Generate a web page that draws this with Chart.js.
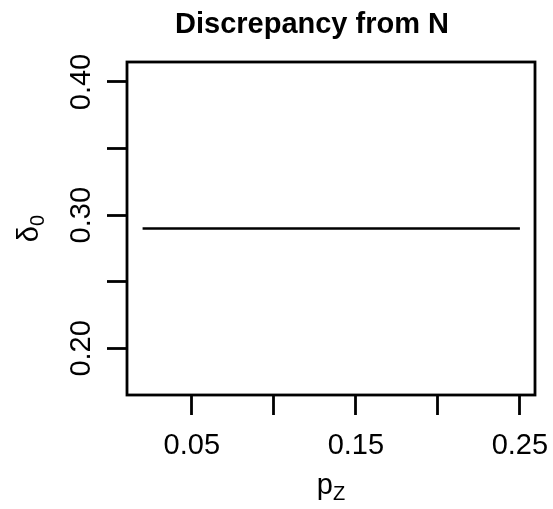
<!DOCTYPE html>
<html>
<head>
<meta charset="utf-8">
<script src="https://cdn.jsdelivr.net/npm/chart.js@4.4.0/dist/chart.umd.min.js"></script>
<style>
html, body { margin: 0; padding: 0; background: #fff; }
</style>
</head>
<body>
<canvas id="chart" width="553" height="509"></canvas>
<script>
var pZ = [0.02, 0.05, 0.10, 0.15, 0.20, 0.25];
var delta0 = [0.29, 0.29, 0.29, 0.29, 0.29, 0.29];
var xTicks = [0.05, 0.10, 0.15, 0.20, 0.25];
var xTickLabels = ['0.05', '', '0.15', '', '0.25'];
var yTicks = [0.20, 0.25, 0.30, 0.35, 0.40];
var yTickLabels = ['0.20', '', '0.30', '', '0.40'];
var chartTitle = 'Discrepancy from N';

var FONT = '"Liberation Sans", Arial, Helvetica, sans-serif';

// R-style extras: full box, rotated y labels, axis titles with subscripts, title
var rStyle = {
    id: 'rStyle',
    afterDraw: function (chart) {
        var ctx = chart.ctx;
        var area = chart.chartArea;
        var ys = chart.scales.y;
        var midX = (area.left + area.right) / 2;
        var midY = (area.top + area.bottom) / 2;

        ctx.save();
        ctx.strokeStyle = '#000';
        ctx.lineWidth = 2.8;
        ctx.strokeRect(area.left, area.top, area.right - area.left, area.bottom - area.top);

        ctx.fillStyle = '#000';
        ctx.font = '29px ' + FONT;
        ctx.textAlign = 'center';
        ctx.textBaseline = 'alphabetic';
        for (var i = 0; i < yTicks.length; i++) {
            if (!yTickLabels[i]) continue;
            var py = ys.getPixelForValue(yTicks[i]);
            ctx.save();
            ctx.translate(90, py);
            ctx.rotate(-Math.PI / 2);
            ctx.fillText(yTickLabels[i], 0, 0);
            ctx.restore();
        }

        // y title: delta with subscript 0
        ctx.textAlign = 'left';
        ctx.font = '29px ' + FONT;
        var wd = ctx.measureText('δ').width;
        ctx.font = '20px ' + FONT;
        var w0 = ctx.measureText('0').width;
        ctx.save();
        ctx.translate(38, midY);
        ctx.rotate(-Math.PI / 2);
        var sx = -(wd + w0) / 2;
        ctx.font = '29px ' + FONT;
        ctx.fillText('δ', sx, 0);
        ctx.font = '20px ' + FONT;
        ctx.fillText('0', sx + wd, 6);
        ctx.restore();

        // x title: p with subscript Z
        ctx.font = '29px ' + FONT;
        var wp = ctx.measureText('p').width;
        ctx.font = '20px ' + FONT;
        var wz = ctx.measureText('Z').width;
        var px = midX - (wp + wz) / 2;
        ctx.font = '29px ' + FONT;
        ctx.fillText('p', px, 494);
        ctx.font = '20px ' + FONT;
        ctx.fillText('Z', px + wp, 500);

        // main title
        ctx.textAlign = 'center';
        ctx.font = 'bold 29px ' + FONT;
        ctx.fillText(chartTitle, 312, 33);
        ctx.restore();
    }
};

var points = pZ.map(function (x, i) {
    return { x: x, y: delta0[i] };
});

new Chart(document.getElementById('chart').getContext('2d'), {
    type: 'line',
    data: {
        datasets: [{
            data: points,
            borderColor: '#000',
            borderWidth: 2.3,
            pointRadius: 0,
            fill: false,
            tension: 0
        }]
    },
    options: {
        responsive: false,
        animation: false,
        layout: { padding: { top: 62, right: 18, left: 0, bottom: 0 } },
        plugins: {
            legend: { display: false },
            tooltip: { enabled: false }
        },
        scales: {
            x: {
                type: 'linear',
                min: 0.0105,
                max: 0.2592,
                afterBuildTicks: function (scale) {
                    scale.ticks = xTicks.map(function (v) { return { value: v }; });
                },
                afterFit: function (scale) {
                    scale.height = 114;
                    scale.paddingLeft = 0;
                    scale.paddingRight = 0;
                },
                ticks: {
                    autoSkip: false,
                    maxRotation: 0,
                    padding: 14,
                    color: '#000',
                    font: { size: 29, family: FONT },
                    callback: function (value, index) { return xTickLabels[index]; }
                },
                grid: {
                    drawOnChartArea: false,
                    drawTicks: true,
                    tickLength: 20,
                    tickWidth: 2.8,
                    tickColor: '#000'
                },
                border: { display: false }
            },
            y: {
                type: 'linear',
                min: 0.165,
                max: 0.415,
                afterBuildTicks: function (scale) {
                    scale.ticks = yTicks.map(function (v) { return { value: v }; });
                },
                afterFit: function (scale) {
                    scale.width = 127;
                    scale.paddingTop = 0;
                    scale.paddingBottom = 0;
                },
                ticks: { display: false },
                grid: {
                    drawOnChartArea: false,
                    drawTicks: true,
                    tickLength: 20,
                    tickWidth: 2.8,
                    tickColor: '#000'
                },
                border: { display: false }
            }
        }
    },
    plugins: [rStyle]
});
</script>
</body>
</html>
